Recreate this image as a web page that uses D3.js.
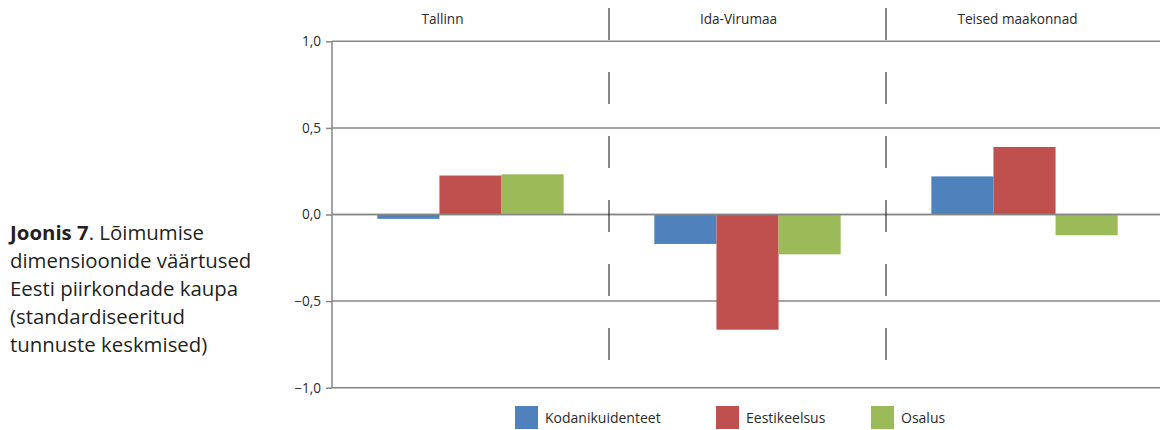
<!DOCTYPE html>
<html><head><meta charset="utf-8">
<script src="https://cdn.jsdelivr.net/npm/d3@7"></script>
<style>
html,body{margin:0;padding:0;background:#fff;}
svg{display:block;}
</style></head>
<body>
<svg id="c" width="1160" height="430"></svg>
<script>
const regions = ["Tallinn", "Ida-Virumaa", "Teised maakonnad"];
const seriesNames = ["Kodanikuidenteet", "Eestikeelsus", "Osalus"];
const kodanikuidenteet = [-0.025, -0.17, 0.22];
const eestikeelsus = [0.225, -0.665, 0.39];
const osalus = [0.232, -0.23, -0.12];
const colors = ["#4f81bd", "#c0504d", "#9bbb59"];
const yTicks = [1.0, 0.5, 0.0, -0.5, -1.0];
const yTickLabels = ["1,0", "0,5", "0,0", "\u22120,5", "\u22121,0"];

(function () {
const series = [kodanikuidenteet, eestikeelsus, osalus];
const svg = d3.select("#c");
const pl = 332, pr = 1163, pt = 41.3, pb = 387.7;
const FONT = "'Open Sans', sans-serif";

const x = d3.scaleBand().domain(regions).range([pl, pr]).paddingInner(0).paddingOuter(0);
const inner = d3.scaleBand().domain(seriesNames).range([0, x.bandwidth()]).paddingInner(0).paddingOuter(0.73);
const y = d3.scaleLinear().domain([-1, 1]).range([pb, pt]);

// gridlines
svg.append("g").selectAll("line").data(yTicks).join("line")
  .attr("x1", pl).attr("x2", pr)
  .attr("y1", d => y(d)).attr("y2", d => y(d))
  .attr("stroke", "#868686").attr("stroke-width", 1.5);

// bars
const g = svg.append("g");
seriesNames.forEach((s, si) => {
  g.selectAll(null).data(regions).join("rect")
    .attr("x", (r) => x(r) + inner(s))
    .attr("width", inner.bandwidth())
    .attr("y", (r, i) => y(Math.max(0, series[si][i])))
    .attr("height", (r, i) => Math.abs(y(series[si][i]) - y(0)))
    .attr("fill", colors[si]);
});

// zero line on top
svg.append("line").attr("x1", pl).attr("x2", pr).attr("y1", y(0)).attr("y2", y(0))
  .attr("stroke", "#868686").attr("stroke-width", 1.5);

// y axis
const yAxis = d3.axisLeft(y).tickValues(yTicks).tickSize(6).tickPadding(5)
  .tickFormat((d, i) => yTickLabels[i]);
const ya = svg.append("g").attr("transform", `translate(${pl},0)`).call(yAxis);
ya.select(".domain").attr("stroke", "#868686").attr("stroke-width", 1.5).attr("d", `M0,${pt}V${pb}`);
ya.selectAll(".tick line").attr("stroke", "#868686").attr("stroke-width", 1.5);
ya.selectAll(".tick text").attr("font-family", FONT).attr("font-size", 13.6).attr("fill", "#2a2a2a");

// dividers
svg.append("g").selectAll("line").data(regions.slice(1)).join("line")
  .attr("x1", d => x(d)).attr("x2", d => x(d))
  .attr("y1", 8).attr("y2", 360)
  .attr("stroke", "#111").attr("stroke-width", 1).attr("stroke-dasharray", "32,32");

// region labels
const labelShift = [-28, -9, -7];
svg.append("g").selectAll("text").data(regions).join("text")
  .attr("x", (d, i) => x(d) + x.bandwidth() / 2 + labelShift[i])
  .attr("y", 24)
  .attr("text-anchor", "middle")
  .attr("font-family", FONT).attr("font-size", 13.6).attr("fill", "#2a2a2a")
  .text(d => d);

// legend
const legX = [515, 716, 871];
const lg = svg.append("g");
seriesNames.forEach((s, i) => {
  lg.append("rect").attr("x", legX[i]).attr("y", 406).attr("width", 23).attr("height", 23).attr("fill", colors[i]);
  lg.append("text").attr("x", legX[i] + 30).attr("y", 423)
    .attr("font-family", FONT).attr("font-size", 14).attr("fill", "#2a2a2a").text(s);
});

// caption
const cap = svg.append("text").attr("font-family", FONT).attr("font-size", 20.4).attr("fill", "#231f20");
const l1 = cap.append("tspan").attr("x", 10).attr("y", 240);
l1.append("tspan").attr("font-weight", "bold").text("Joonis 7");
l1.append("tspan").text(". Lõimumise");
["dimensioonide väärtused", "Eesti piirkondade kaupa", "(standardiseeritud", "tunnuste keskmised)"].forEach((t, i) => {
  cap.append("tspan").attr("x", 10).attr("y", 240 + 28 * (i + 1)).text(t);
});
})();
</script>
</body></html>
